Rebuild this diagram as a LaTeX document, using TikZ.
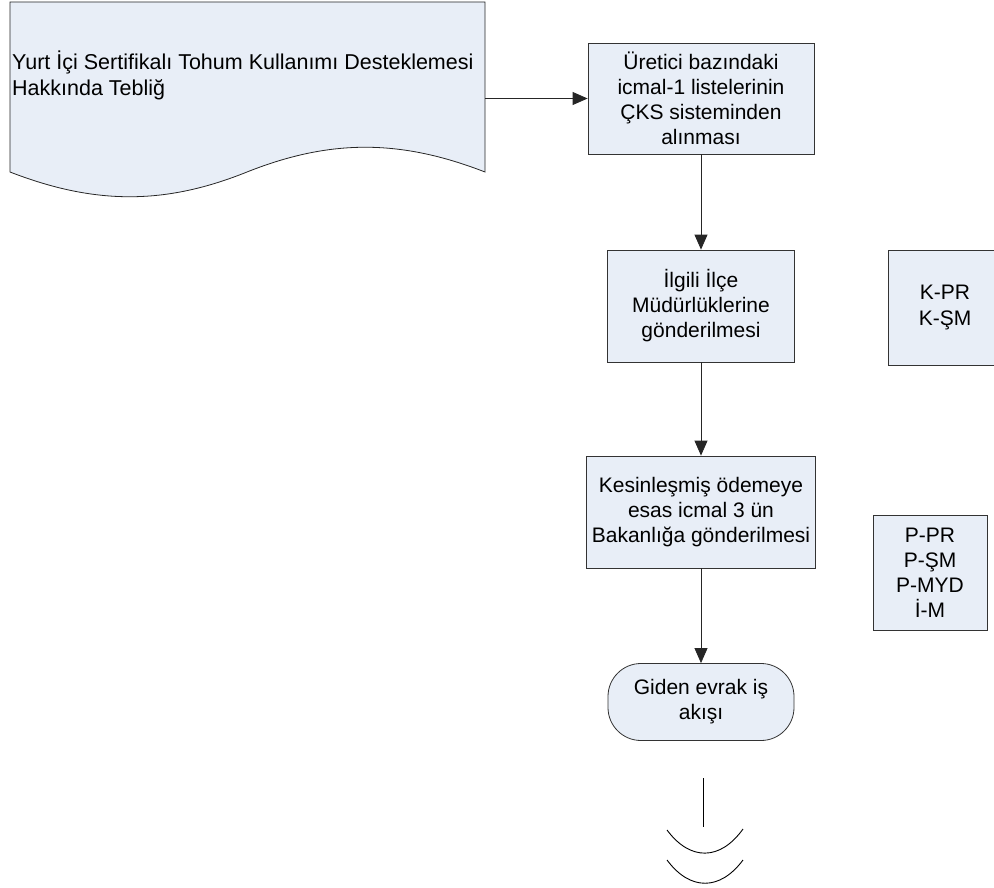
\documentclass[tikz,border=0pt]{standalone}
\usepackage{fontspec}
\setmainfont{Liberation Sans}
\usepackage{tikz}
\usetikzlibrary{
    arrows.meta,  % arrow tips
}
\definecolor{boxfill}{HTML}{E8EEF7}
\tikzset{
    proc/.style={draw=black!80, line width=0.8pt, fill=boxfill, align=center,
        inner sep=0pt, font=\fontsize{21}{25}\selectfont},
    term/.style={proc, rounded corners=33pt},
    flow/.style={draw=black!85, line width=0.8pt, -{Triangle[length=15pt, width=13pt]}},
}

\begin{document}
\begin{tikzpicture}[x=1pt, y=-1pt]
            \useasboundingbox (0, 0) rectangle (994, 888);

            % document shape
            \draw[black!85, line width=0.8pt, fill=boxfill] (10, 2) -- (485, 2) -- (485, 172)
                .. controls (400, 139) and (330, 139) .. (247, 172)
                .. controls (165, 205) and (95, 205) .. (10, 172) -- cycle;
            \node[anchor=west, align=left, inner sep=0pt, font=\fontsize{21.5}{26}\selectfont] (teblig) at (12, 75)
                {Yurt İçi Sertifikalı Tohum Kullanımı Desteklemesi\\Hakkında Tebliğ};
            \coordinate (tebligR) at (485, 98.5);

            \node[proc, minimum width=226, minimum height=111] (icmal) at (701, 98.5)
                {Üretici bazındaki\\icmal-1 listelerinin\\ÇKS sisteminden\\alınması};
            \node[proc, minimum width=187, minimum height=112] (ilce) at (701, 306)
                {İlgili İlçe\\Müdürlüklerine\\gönderilmesi};
            \node[proc, minimum width=229, minimum height=112] (bakanlik) at (701, 512)
                {Kesinleşmiş ödemeye\\esas icmal 3 ün\\Bakanlığa gönderilmesi};
            \node[term, minimum width=186, minimum height=77] (giden) at (701, 702)
                {Giden evrak iş\\akışı};

            \node[proc, minimum width=114, minimum height=115] (kontrol) at (945, 307.5)
                {K-PR\\K-ŞM};
            \node[proc, minimum width=114, minimum height=115] (personel) at (930, 572.5)
                {P-PR\\P-ŞM\\P-MYD\\İ-M};

            \draw[flow] (tebligR) -- (icmal.west);
            \draw[flow] (icmal) -- (ilce);
            \draw[flow] (ilce) -- (bakanlik);
            \draw[flow] (bakanlik) -- (giden);

            % off-page reference
            \draw[black, line width=0.9pt] (703, 778) -- (703, 827);
            \draw[black, line width=0.9pt] (667, 830) .. controls (690, 861) and (720, 861) .. (743, 829);
            \draw[black, line width=0.9pt] (667, 860) .. controls (690, 891) and (720, 891) .. (743, 860);
        \end{tikzpicture}
\end{document}
